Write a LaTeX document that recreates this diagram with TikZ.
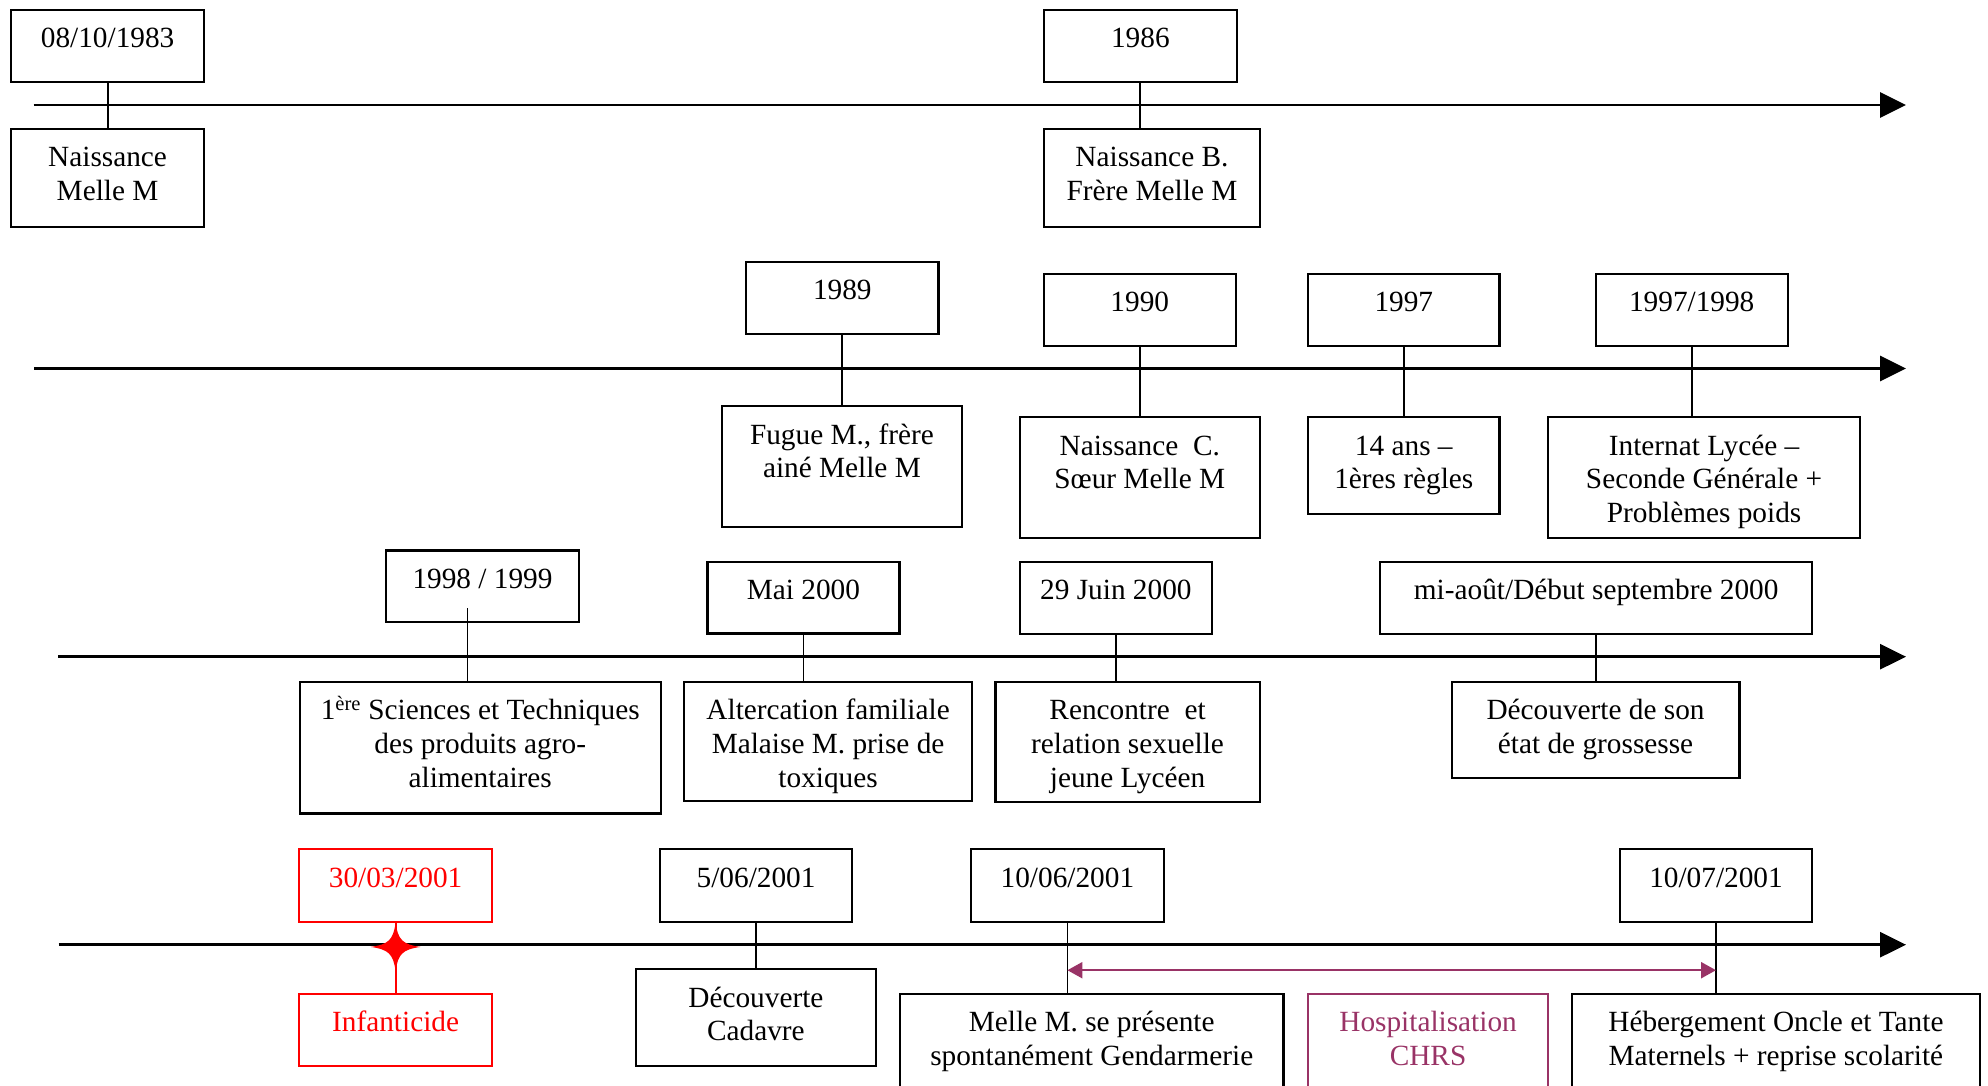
\documentclass[tikz,border=0pt]{standalone}
\usepackage{fontspec}
\setmainfont{Liberation Serif}
\usetikzlibrary{arrows.meta,calc}
\definecolor{plum}{RGB}{153,51,102}
\newcommand\bt[3]{\parbox[t][#2pt][t]{#1pt}{\centering\rule{0pt}{38pt}#3\par}}
\tikzset{
  evbox/.style={draw, line width=2.2pt, inner sep=0pt, anchor=north west,
    font=\fontsize{29.3}{33.6}\selectfont},
  redbox/.style={evbox, draw=red, text=red},
  plumbox/.style={evbox, draw=plum, text=plum},
  axisline/.style={line width=2.8pt, -{Triangle[length=26pt,width=25pt]}},
  conn/.style={line width=1.8pt},
  span/.style={draw=plum, line width=2.2pt,
    {Triangle[length=15pt,width=16pt]}-{Triangle[length=15pt,width=16pt]}}
}
\begin{document}
\begin{tikzpicture}[x=1pt,y=-1pt]
\useasboundingbox (0,0) rectangle (1988,1085);
\clip (0,0) rectangle (1988,1085);

% ---------- Row 1 ----------
\coordinate (s1) at (33.5,105);
\coordinate (e1) at (1906,105);
\draw[axisline] (s1) -- (e1);
\node[evbox] (a1) at (10,8.5) {\bt{193}{72}{08/10/1983}};
\node[evbox] (b1) at (10,127.7) {\bt{193}{97.8}{Naissance\\Melle M}};
\node[evbox] (a2) at (1043,8.5) {\bt{192.5}{72}{1986}};
\node[evbox] (b2) at (1043,127.7) {\bt{215.7}{97.8}{Naissance B.\\Frère Melle M}};
\draw[conn] (a1.south) -- (a1.south |- b1.north);
\draw[conn] (a2.south) -- (a2.south |- b2.north);

% ---------- Row 2 ----------
\coordinate (s2) at (34,368.5);
\coordinate (e2) at (1906,368.5);
\draw[axisline] (s2) -- (e2);
\node[evbox] (a3) at (745,260.7) {\bt{192.4}{72.3}{1989}};
\node[evbox] (b3) at (720.5,405) {\bt{240.7}{120.7}{Fugue M., frère\\ainé Melle M}};
\node[evbox] (a4) at (1042.5,272.7) {\bt{192.3}{72.3}{1990}};
\node[evbox] (b4) at (1018.7,416) {\bt{239.9}{120.7}{Naissance\ \ C.\\Sœur Melle M}};
\node[evbox] (a5) at (1307,272.7) {\bt{191.4}{72.3}{1997}};
\node[evbox] (b5) at (1307,416) {\bt{191.4}{97}{14 ans –\\1ères règles}};
\node[evbox] (a6) at (1594.5,272.7) {\bt{192.2}{72.3}{1997/1998}};
\node[evbox] (b6) at (1546.9,416) {\bt{312.1}{120.7}{Internat Lycée –\\Seconde Générale +\\Problèmes poids}};
\draw[conn] (a3.south) -- (a3.south |- b3.north);
\draw[conn] (a4.south) -- (a4.south |- b4.north);
\draw[conn] (a5.south) -- (a5.south |- b5.north);
\draw[conn] (a6.south) -- (a6.south |- b6.north);

% ---------- Row 3 ----------
\coordinate (s3) at (58,656.7);
\coordinate (e3) at (1906,656.7);
\draw[axisline] (s3) -- (e3);
\node[evbox] (a7) at (385,549.3) {\bt{192.8}{71.7}{1998 / 1999}};
\node[evbox] (b7) at (298.75,680.7) {\bt{360.75}{131.6}{1\textsuperscript{ère} Sciences et Techniques\\des produits agro-\\alimentaires}};
\node[evbox] (a8) at (706.3,560.7) {\bt{192}{71.6}{Mai 2000}};
\node[evbox] (b8) at (683,680.7) {\bt{288}{119.3}{Altercation familiale\\Malaise M. prise de\\toxiques}};
\node[evbox] (a9) at (1018.8,560.7) {\bt{192}{72}{29 Juin 2000}};
\node[evbox] (b9) at (994.4,680.7) {\bt{264.1}{120}{Rencontre\ \ et\\relation sexuelle\\jeune Lycéen}};
\node[evbox] (a10) at (1379,560.7) {\bt{432.2}{72}{mi-août/Début septembre 2000}};
\node[evbox] (b10) at (1450.5,680.7) {\bt{287.9}{96}{Découverte de son\\état de grossesse}};
\coordinate (k7) at (467.5,608.3);
\draw[conn] (k7) -- (k7 |- b7.north);
\draw[conn] (a8.south) -- (a8.south |- b8.north);
\draw[conn] (a9.south) -- (a9.south |- b9.north);
\draw[conn] (a10.south) -- (a10.south |- b10.north);

% ---------- Row 4 ----------
\coordinate (s4) at (58.5,944.7);
\coordinate (e4) at (1906,944.7);
\draw[axisline] (s4) -- (e4);
\node[redbox] (a11) at (298,848) {\bt{193}{72.5}{30/03/2001}};
\node[redbox] (b11) at (298,992.7) {\bt{193}{72.3}{Infanticide}};
\node[evbox] (a12) at (659,848) {\bt{192}{72.7}{5/06/2001}};
\node[evbox] (b12) at (634.6,968) {\bt{240.4}{97}{Découverte\\Cadavre}};
\node[evbox] (a13) at (970,848) {\bt{192.6}{72.7}{10/06/2001}};
\node[evbox] (b13) at (899,992.7) {\bt{383.3}{120}{Melle M. se présente\\spontanément Gendarmerie}};
\node[plumbox] (hosp) at (1306.9,992.7) {\bt{240.1}{120}{Hospitalisation\\CHRS}};
\node[evbox] (a14) at (1618.8,848) {\bt{192.2}{72.7}{10/07/2001}};
\node[evbox] (b14) at (1571,992.7) {\bt{407.6}{120}{Hébergement Oncle et Tante\\Maternels + reprise scolarité}};
\draw[conn, red] (a11.south) -- (a11.south |- b11.north);
\coordinate (st) at ($(a11.south)+(0,24.2)$);
\fill[red, shift={(st)}] (25,0) .. controls (7,2.5) and (2.5,7) .. (0,24)
   .. controls (-2.5,7) and (-7,2.5) .. (-25,0)
   .. controls (-7,-2.5) and (-2.5,-7) .. (0,-24)
   .. controls (2.5,-7) and (7,-2.5) .. cycle;
\draw[conn] (a12.south) -- (a12.south |- b12.north);
\draw[conn] (a13.south) -- (a13.south |- b13.north);
\draw[conn] (a14.south) -- (a14.south |- b14.north);
\coordinate (p1) at ($(a13.south)+(0,47.3)$);
\coordinate (p2) at ($(a14.south)+(0,47.3)$);
\draw[span] (p1) -- (p2);
\end{tikzpicture}
\end{document}
